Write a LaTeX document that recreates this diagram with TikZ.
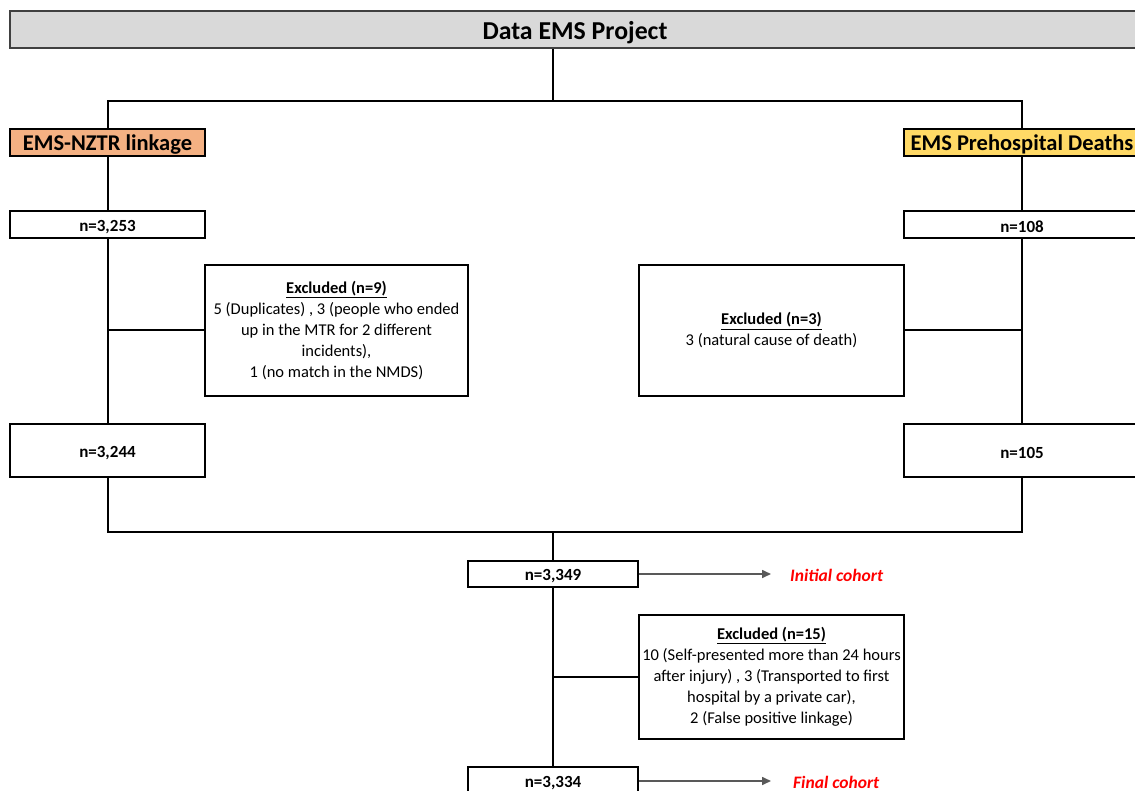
\documentclass[tikz,border=0pt]{standalone}
\usepackage{fontspec}
\setmainfont{Carlito}
\usetikzlibrary{arrows.meta}
\definecolor{titlegray}{HTML}{D9D9D9}
\definecolor{titleedge}{HTML}{404040}
\definecolor{nztrfill}{HTML}{F4B183}
\definecolor{prefill}{HTML}{FFD966}
\definecolor{cohortred}{HTML}{FF0000}
\definecolor{arrowgray}{HTML}{595959}
\newcommand{\lowertext}[2]{\raisebox{-#1}[\height][\depth]{#2}}
\tikzset{
  box/.style={draw=black, line width=2pt, fill=white, inner sep=0pt, align=center,
    font=\fontsize{16.5}{21}\selectfont},
  nbox/.style={box, font=\fontsize{17}{21}\selectfont\bfseries},
  hbox/.style={box, font=\fontsize{22.5}{26}\selectfont\bfseries},
  conn/.style={draw=black, line width=2pt},
  arrowline/.style={draw=arrowgray, line width=1.6pt, -{Triangle[length=9pt,width=8pt]}},
  cohort/.style={inner sep=0pt, anchor=west, text=cohortred,
    font=\fontsize{17.5}{21}\selectfont\bfseries\itshape}
}
\begin{document}
\begin{tikzpicture}[x=1pt,y=-1pt]
\useasboundingbox (0,0) rectangle (1135,791);
\clip (0,0) rectangle (1135,791);
\fill[white] (0,0) rectangle (1135,791);

\node[box, fill=titlegray, draw=titleedge, minimum width=1130pt, minimum height=37pt,
  font=\fontsize{25.8}{28}\selectfont\bfseries] (title) at (575,29.5) {\lowertext{3.5pt}{Data EMS Project}};

\node[hbox, fill=nztrfill, minimum width=195pt, minimum height=27pt] (nztr) at (107.5,142.5) {\lowertext{2pt}{EMS-NZTR linkage}};
\node[nbox, minimum width=195pt, minimum height=27pt] (n3253) at (107.5,224.5) {\lowertext{2.5pt}{n=3,253}};
\node[box, minimum width=263pt, minimum height=131pt] (exc9) at (336.5,330.5)
  {\underline{\textbf{Excluded (n=9)}}\\5 (Duplicates) , 3 (people who ended\\up in the MTR for 2 different\\incidents),\\1 (no match in the NMDS)};
\node[nbox, minimum width=195pt, minimum height=53pt] (n3244) at (107.5,450.5) {\lowertext{2.5pt}{n=3,244}};

\node[hbox, fill=prefill, minimum width=236pt, minimum height=27pt] (pre) at (1022,142.5) {\lowertext{2pt}{EMS Prehospital Deaths}};
\node[nbox, minimum width=236pt, minimum height=27pt] (n108) at (1022,224.5) {\lowertext{2pt}{n=108}};
\node[box, minimum width=265pt, minimum height=131pt] (exc3) at (771.5,330.5)
  {\underline{\textbf{Excluded (n=3)}}\\3 (natural cause of death)};
\node[nbox, minimum width=236pt, minimum height=53pt] (n105) at (1022,450.5) {\lowertext{2pt}{n=105}};

\node[nbox, minimum width=170pt, minimum height=26pt] (n3349) at (553,574) {\lowertext{2pt}{n=3,349}};
\node[box, minimum width=265pt, minimum height=124pt] (exc15) at (771.5,677)
  {\underline{\textbf{Excluded (n=15)}}\\10 (Self-presented more than 24 hours\\after injury) , 3 (Transported to first\\hospital by a private car),\\2 (False positive linkage)};
\node[nbox, minimum width=170pt, minimum height=28pt] (n3334) at (553,781) {\lowertext{2pt}{n=3,334}};

\node[cohort] (initial) at (790,575) {Initial cohort};
\node[cohort] (final) at (793,782) {Final cohort};

\coordinate (topj) at (553,101);
\coordinate (botj) at (553,532);

\draw[conn] (title.south -| topj) -- (topj);
\draw[conn] (nztr.north) |- (topj) -| (pre.north);
\draw[conn] (nztr.south) -- (n3253.north);
\draw[conn] (n3253.south) -- (n3244.north);
\draw[conn] (exc9.west) -- (exc9.west -| n3253.south);
\draw[conn] (pre.south) -- (n108.north);
\draw[conn] (n108.south) -- (n105.north);
\draw[conn] (exc3.east) -- (exc3.east -| n108.south);
\draw[conn] (n3244.south) |- (botj) -| (n105.south);
\draw[conn] (botj) -- (n3349.north);
\draw[conn] (n3349.south) -- (n3334.north);
\draw[conn] (exc15.west) -- (exc15.west -| n3349.south);

\draw[arrowline] (n3349.east) -- ([xshift=-19pt]initial.west |- n3349.east);
\draw[arrowline] (n3334.east) -- ([xshift=-22pt]final.west |- n3334.east);
\end{tikzpicture}
\end{document}
